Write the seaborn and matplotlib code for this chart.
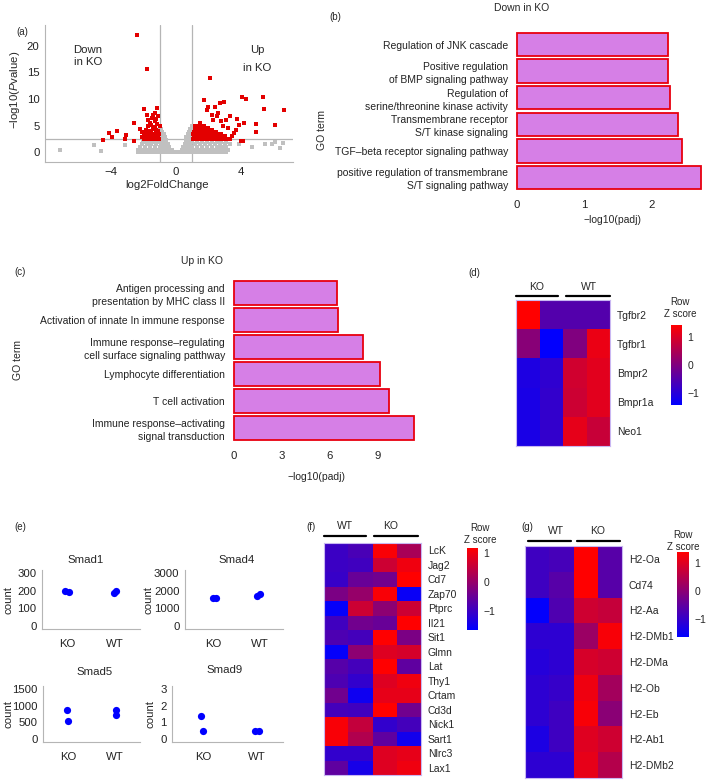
import numpy as np
import pandas as pd
import matplotlib
matplotlib.use('Agg')
import matplotlib.pyplot as plt
import seaborn as sns
from matplotlib.colors import LinearSegmentedColormap

sns.set_style('white')
plt.rcParams['font.family'] = ['Liberation Sans', 'DejaVu Sans']
plt.rcParams['mathtext.fontset'] = 'custom'
plt.rcParams['mathtext.rm'] = 'Liberation Sans'
plt.rcParams['mathtext.it'] = 'Liberation Sans:italic'

# ---- (a) volcano: points (log2FC, -log10 P)
grey_points = [
    (-2.3, 0.05), (-2.1, 0.05), (-1.9, 0.05), (-1.7, 0.05), (-1.5, 0.05), (-1.3, 0.05), (-1.1, 0.05),
    (-0.9, 0.05), (-0.7, 0.05), (-0.5, 0.05), (-0.3, 0.05), (-0.1, 0.05), (0.1, 0.0), (0.3, 0.05),
    (0.5, 0.05), (0.7, 0.05), (0.9, 0.05), (1.1, 0.05), (1.3, 0.05), (1.5, 0.05), (1.7, 0.05),
    (1.9, 0.05), (2.1, 0.05), (2.3, 0.05), (2.5, 0.05), (2.7, 0.05), (2.9, 0.05), (3.1, 0.05),
    (-2.2, 0.5), (-2.0, 0.5), (-1.8, 0.5), (-1.6, 0.5), (-1.4, 0.5), (-1.2, 0.5), (-1.0, 0.5),
    (-0.8, 0.5), (-0.6, 0.5), (-0.4, 0.5), (-0.25, 0.45), (0.35, 0.45), (0.5, 0.5), (0.65, 0.5),
    (0.8, 0.5), (1.0, 0.5), (1.2, 0.5), (1.4, 0.5), (1.6, 0.5), (1.8, 0.5), (2.0, 0.5), (2.2, 0.5),
    (2.4, 0.5), (2.6, 0.5), (2.8, 0.5), (3.0, 0.5), (3.2, 0.5),
    (-2.2, 1.0), (-1.9, 1.0), (-1.6, 1.0), (-1.3, 1.0), (-1.0, 1.0), (-0.8, 1.0), (-0.6, 1.0),
    (-0.4, 1.0), (0.45, 1.0), (0.6, 1.0), (0.8, 1.0), (1.0, 1.0), (1.3, 1.0), (1.6, 1.0),
    (1.9, 1.0), (2.2, 1.0), (2.5, 1.0), (2.8, 1.0), (3.1, 1.0),
    (-2.1, 1.5), (-1.8, 1.5), (-1.5, 1.5), (-1.2, 1.5), (-0.9, 1.5), (-0.7, 1.5), (-0.5, 1.5),
    (0.55, 1.5), (0.7, 1.5), (0.9, 1.5), (1.2, 1.5), (1.5, 1.5), (1.8, 1.5), (2.1, 1.5),
    (2.4, 1.5), (2.7, 1.5), (3.0, 1.5), (3.3, 1.5),
    (-2.0, 2.0), (-1.7, 2.0), (-1.4, 2.0), (-1.1, 2.0), (-0.8, 2.0), (-0.6, 2.0), (0.6, 2.0),
    (0.8, 2.0), (1.0, 2.0), (1.3, 2.0), (1.6, 2.0), (1.9, 2.0), (2.2, 2.0), (2.5, 2.0),
    (2.8, 2.0), (3.1, 2.0),
    (-1.9, 2.4), (-1.6, 2.4), (-1.3, 2.4), (-1.0, 2.4), (-0.8, 2.4), (-0.6, 2.4), (0.6, 2.4),
    (0.8, 2.4), (1.0, 2.4), (1.3, 2.4), (1.6, 2.4), (1.9, 2.4), (2.2, 2.4), (2.5, 2.4), (2.8, 2.4),
    (-0.95, 2.9), (-0.8, 2.9), (-0.65, 2.9), (0.65, 2.9), (0.8, 2.9), (0.95, 2.9),
    (-0.98, 3.4), (-0.85, 3.4), (-0.72, 3.4), (0.75, 3.4), (0.88, 3.4), (0.98, 3.4),
    (-0.98, 3.9), (-0.85, 3.9), (0.82, 3.9), (0.95, 3.9),
    (-0.97, 4.4), (-0.9, 4.4), (0.9, 4.4), (0.98, 4.4), (-0.97, 4.9), (0.97, 4.9),
    (-7.1, 0.4), (-5.0, 1.4), (-4.6, 0.2), (-3.1, 1.3), (-2.3, 0.4), (2.9, 1.1), (3.9, 1.6),
    (4.7, 1.1), (5.5, 1.6), (5.9, 1.6), (6.1, 1.9), (6.6, 1.75), (6.4, 0.8),
]
sig_points = [
    (-2.36, 22.1), (-1.8, 15.6), (-1.95, 8.2), (-1.17, 8.3), (-2.6, 5.6), (-3.6, 4.1), (-4.1, 3.6),
    (-3.9, 2.9), (-3.05, 3.3), (-3.15, 2.6), (-4.45, 2.25), (-2.6, 2.1), (-2.2, 4.4), (-2.1, 3.8),
    (-1.8, 7.1), (-1.7, 6.1), (-1.5, 5.2), (-1.4, 7.1), (-1.3, 7.4), (-1.1, 6.75), (-1.7, 4.9),
    (-1.9, 3.0), (-1.5, 3.9), (-1.3, 3.3), (-1.2, 4.25), (-1.0, 4.9),
    (-1.05, 2.6), (-1.2, 2.6), (-1.35, 2.6), (-1.5, 2.6), (-1.65, 2.6), (-1.8, 2.6), (-1.95, 2.6),
    (-1.1, 3.0), (-1.25, 2.9), (-1.4, 3.1), (-1.55, 2.9), (-1.7, 3.2), (-1.85, 3.0), (-2.05, 2.8),
    (-1.05, 3.5), (-1.2, 3.7), (-1.35, 3.5), (-1.6, 3.5), (-1.75, 3.7), (-1.95, 3.5), (-1.1, 4.0),
    (-1.4, 4.3), (-1.6, 4.1), (-1.85, 4.2), (-1.15, 5.4), (-1.3, 5.9), (-1.45, 6.5), (-1.2, 6.3),
    (-1.6, 5.5), (-1.25, 4.7),
    (2.07, 13.9), (1.74, 9.75), (2.69, 9.25), (2.93, 9.4), (4.06, 10.4), (4.33, 10.1), (5.35, 10.4),
    (5.44, 8.2), (6.63, 8.0), (6.1, 5.2), (4.9, 5.3), (4.9, 3.9), (4.16, 5.6), (3.75, 6.25),
    (3.9, 5.2), (3.7, 4.25), (3.3, 6.75), (3.1, 6.1), (2.6, 7.4), (2.4, 8.5), (2.0, 8.5), (2.2, 7.1),
    (2.5, 6.75), (2.9, 5.0), (3.45, 3.0), (4.0, 2.1), (4.15, 2.1), (1.5, 5.5), (1.6, 4.25),
    (1.2, 4.9), (1.9, 8.0), (2.3, 6.0), (2.8, 5.8), (3.2, 4.5), (3.6, 3.6),
    (1.05, 2.6), (1.2, 2.6), (1.35, 2.6), (1.5, 2.6), (1.65, 2.6), (1.8, 2.6), (1.95, 2.6),
    (2.1, 2.6), (2.25, 2.6), (2.4, 2.6), (2.55, 2.6), (2.7, 2.6), (2.85, 2.6), (3.0, 2.6),
    (3.15, 2.6), (3.3, 2.6),
    (1.1, 3.0), (1.25, 3.0), (1.4, 3.0), (1.55, 3.0), (1.7, 3.0), (1.85, 3.0), (2.0, 3.0),
    (2.15, 3.0), (2.3, 3.0), (2.45, 3.0), (2.6, 3.0), (2.8, 3.0), (3.0, 3.0),
    (1.05, 3.4), (1.2, 3.4), (1.35, 3.4), (1.5, 3.4), (1.65, 3.4), (1.8, 3.4), (1.95, 3.4),
    (2.1, 3.4), (2.3, 3.4), (2.5, 3.4), (2.75, 3.4),
    (1.1, 3.8), (1.25, 3.8), (1.4, 3.8), (1.55, 3.8), (1.7, 3.8), (1.85, 3.8), (2.0, 3.8),
    (2.2, 3.8), (2.45, 3.8),
    (1.15, 4.2), (1.3, 4.2), (1.45, 4.2), (1.6, 4.2), (1.8, 4.2), (2.0, 4.2), (2.25, 4.2),
    (1.2, 4.6), (1.35, 4.6), (1.5, 4.6), (1.7, 4.6), (1.95, 4.6), (1.3, 5.0), (1.5, 5.0), (1.75, 5.0),
]
lfc_cut = 1
p_cut = 2.5

# ---- (b), (c) GO enrichment
down_terms = ['Regulation of JNK cascade', 'Positive regulation\nof BMP signaling pathway',
              'Regulation of\nserine/threonine kinase activity', 'Transmembrane receptor\nS/T kinase signaling',
              'TGF\u2013beta receptor signaling pathway',
              'positive regulation of transmembrane\nS/T signaling pathway']
down_padj = [2.24, 2.24, 2.27, 2.38, 2.44, 2.72]
up_terms = ['Antigen processing and\npresentation by MHC class II', 'Activation of innate In immune response',
            'Immune response\u2013regulating\ncell surface signaling patthway', 'Lymphocyte differentiation',
            'T cell activation', 'Immune response\u2013activating\nsignal transduction']
up_padj = [6.47, 6.5, 8.05, 9.15, 9.7, 11.27]

# ---- (d) heatmap: KO, KO, WT, WT
d_genes = ['Tgfbr2', 'Tgfbr1', 'Bmpr2', 'Bmpr1a', 'Neo1']
d_z = [[1.45, -0.5, -0.5, -0.5],
       [0.1, -1.4, 0.0, 1.2],
       [-1.1, -0.9, 0.9, 1.1],
       [-1.15, -0.85, 0.85, 1.1],
       [-1.15, -0.85, 1.15, 0.8]]

# ---- (e) Smad counts
smad_group = ['KO', 'KO', 'WT', 'WT']
smad1 = [200, 190, 185, 200]
smad4 = [1570, 1600, 1830, 1700]
smad5 = [880, 530, 730, 870]
smad9 = [0.5, 1.4, 0.5, 0.5]

# ---- (f) heatmap: WT, WT, KO, KO
f_genes = ['LcK', 'Jag2', 'Cd7', 'Zap70', 'Ptprc', 'Il21', 'Sit1', 'Glmn', 'Lat', 'Thy1', 'Crtam',
           'Cd3d', 'Nick1', 'Sart1', 'Nlrc3', 'Lax1']
f_z = [[-1.0, -0.85, 1.1, 0.2],
       [-1.0, -0.95, 0.6, 1.0],
       [-1.05, -0.5, -0.4, 1.2],
       [-0.3, 0.0, 1.1, -1.55],
       [-1.6, 0.6, -0.1, 0.6],
       [-0.95, -0.4, -0.5, 1.2],
       [-0.8, -0.9, 1.2, -0.3],
       [-1.6, -0.1, 0.8, 0.7],
       [-0.7, -0.9, 1.2, -0.6],
       [-0.8, -1.1, 0.8, 1.0],
       [-0.4, -1.5, 0.9, 0.9],
       [-0.9, -0.95, 1.2, -0.4],
       [1.1, 0.5, -1.1, -0.9],
       [1.1, 0.3, -0.6, -1.45],
       [-1.1, -1.1, 0.8, 0.9],
       [-0.6, -1.4, 0.8, 1.0]]

# ---- (g) heatmap: WT, WT, KO, KO
g_genes = ['H2-Oa', 'Cd74', 'H2-Aa', 'H2-DMb1', 'H2-DMa', 'H2-Ob', 'H2-Eb', 'H2-Ab1', 'H2-DMb2']
g_z = [[-0.9, -0.8, 1.4, -0.6],
       [-0.9, -0.6, 1.4, -0.6],
       [-1.6, -0.7, 0.8, 0.7],
       [-1.1, -1.1, 0.2, 1.3],
       [-1.2, -1.1, 0.9, 0.8],
       [-1.1, -1.0, 1.2, 0.3],
       [-1.1, -0.9, 1.3, 0.0],
       [-1.3, -0.9, 1.0, 0.8],
       [-1.1, -1.1, 1.1, 0.5]]

W, H = 709, 780
fig = plt.figure(figsize=(W / 100, H / 100), dpi=100)
FS = 7.5
TS = 8.2
GREY = '#9a9a9a'
zcmap = LinearSegmentedColormap.from_list('zscore', ['#0000ff', '#ff0000'])


def box(l, t, r, b):
    return [l / W, 1 - b / H, (r - l) / W, (b - t) / H]


def ftext(x, y, s, **kw):
    kw.setdefault('fontsize', FS)
    kw.setdefault('ha', 'center')
    kw.setdefault('va', 'center')
    fig.text(x / W, 1 - y / H, s, **kw)


def hline(x0, x1, y):
    fig.add_artist(plt.Line2D([x0 / W, x1 / W], [1 - y / H, 1 - y / H], color='black', lw=1.6,
                              transform=fig.transFigure))


def gg_axes(ax):
    sns.despine(ax=ax)
    for s in ['left', 'bottom']:
        ax.spines[s].set_color('#b5b5b5')
        ax.spines[s].set_linewidth(0.8)
    ax.tick_params(length=2.5, width=0.8, color=GREY, labelsize=TS, pad=1.5, labelcolor='#222222')
    ax.set_xlabel('')
    ax.set_ylabel('')


# (a) volcano
ax = fig.add_axes(box(45, 25, 293, 162))
grey_df = pd.DataFrame(grey_points, columns=['lfc', 'p'])
sig_df = pd.DataFrame(sig_points, columns=['lfc', 'p'])
sns.scatterplot(data=grey_df, x='lfc', y='p', color='#c0c0c0', marker='s', s=6, linewidth=0, ax=ax)
sns.scatterplot(data=sig_df, x='lfc', y='p', color='#e30000', marker='s', s=6.5, linewidth=0, ax=ax)
ax.axvline(-lfc_cut, color='#b5b5b5', lw=0.9, zorder=0)
ax.axvline(lfc_cut, color='#b5b5b5', lw=0.9, zorder=0)
ax.axhline(p_cut, color='#b5b5b5', lw=0.9, zorder=0)
ax.set_xlim(-8.04, 7.2)
ax.set_ylim(-1.8, 23.9)
ax.set_xticks([-4, 0, 4])
ax.set_xticklabels(['\u22124', '0', '4'])
ax.set_yticks([0, 5, 10, 15, 20])
gg_axes(ax)
ax.tick_params(axis='x', pad=0.8)
ftext(88, 56, 'Down\nin KO', linespacing=1.3, fontsize=TS)
ftext(257, 59, 'Up\nin KO', linespacing=1.9, fontsize=TS)
ftext(167, 185, 'log2FoldChange', fontsize=TS)
ftext(15, 90, '\u2212log10($\\it{P}$value)', rotation=90, fontsize=TS)
ftext(22, 32, '(a)', fontsize=7)


def go_panel(rect, terms, vals, xmax, ticks):
    ax = fig.add_axes(box(*rect))
    sns.barplot(x=vals, y=terms, orient='h', color='#d67fe6', saturation=1, edgecolor='#e8000f',
                linewidth=1.3, width=0.88, ax=ax)
    ax.set_xlim(-0.01 * xmax, xmax)
    ax.set_ylim(5.55, -0.55)
    ax.set_xticks(ticks)
    sns.despine(ax=ax, left=True, bottom=True)
    ax.tick_params(length=2, width=1, color='#555555', labelsize=FS, pad=3, labelcolor='#222222')
    ax.tick_params(axis='x', pad=4, labelsize=TS)
    for t in ax.get_yticklabels():
        t.set_linespacing(1.35)
    ax.set_xlabel('')
    ax.set_ylabel('')
    return ax


# (b)
go_panel((515, 30, 704, 192), down_terms, down_padj, 2.77, [0, 1, 2])
ftext(522, 8, 'Down in KO')
ftext(335, 17, '(b)', fontsize=7)
ftext(612, 220, '\u2212log10(padj)')
ftext(322, 130, 'GO term', rotation=90)

# (c)
go_panel((232, 278, 415, 443), up_terms, up_padj, 11.33, [0, 3, 6, 9])
ftext(202, 261, 'Up in KO')
ftext(20, 272, '(c)', fontsize=7)
ftext(316, 477, '\u2212log10(padj)')
ftext(18, 360, 'GO term', rotation=90)


def heat_panel(rect, crect, z, genes, vmin, vmax, edge):
    ax = fig.add_axes(box(*rect))
    cax = fig.add_axes(box(*crect))
    df = pd.DataFrame(z, index=genes)
    sns.heatmap(df, ax=ax, cbar_ax=cax, cmap=zcmap, vmin=vmin, vmax=vmax,
                xticklabels=False, yticklabels=genes)
    ax.yaxis.tick_right()
    ax.tick_params(axis='y', length=0, labelsize=FS, rotation=0, pad=5)
    for s in ax.spines.values():
        s.set_visible(True)
        s.set_color(edge)
        s.set_linewidth(0.8)
    cbar = ax.collections[0].colorbar
    cbar.outline.set_visible(False)
    cbar.set_ticks([-1, 0, 1])
    cbar.set_ticklabels(['\u22121', '0', '1'])
    cax.tick_params(length=0, labelsize=FS, pad=4)
    return ax


# (d)
heat_panel((516, 300, 610, 446), (671, 325, 682, 405), d_z, d_genes, -1.43, 1.43, '#c9b7f2')
hline(516, 558, 296)
hline(566, 610, 296)
ftext(537, 287, 'KO')
ftext(589, 287, 'WT')
ftext(680, 308, 'Row\nZ score', fontsize=7, linespacing=1.2)
ftext(474, 273, '(d)', fontsize=7)

# (e)
ftext(20, 527, '(e)', fontsize=7)
np.random.seed(7)
smad_panels = [
    ('Smad1', smad1, (42, 570, 140, 629), (-15, 315), [0, 100, 200, 300], (-0.55, 1.55), 86, 560, 9),
    ('Smad4', smad4, (185, 570, 283, 629), (-150, 3150), [0, 1000, 2000, 3000], (-0.6, 1.5), 237, 560, 148),
    ('Smad5', smad5, (43, 686, 140, 742), (-75, 1575), [0, 500, 1000, 1500], (-0.55, 1.55), 95, 672, 9),
    ('Smad9', smad9, (172, 686, 283, 742), (-0.15, 3.15), [0, 1, 2, 3], (-0.6, 1.5), 225, 670, 150),
]
for name, vals, rect, ylim, yt, xlim, tx, ty, lx in smad_panels:
    ax = fig.add_axes(box(*rect))
    sns.stripplot(x=smad_group, y=vals, color='#0000ff', size=5.2, jitter=0.06, linewidth=0, ax=ax)
    ax.set_ylim(*ylim)
    ax.set_yticks(yt)
    ax.set_xlim(*xlim)
    gg_axes(ax)
    ax.tick_params(axis='x', pad=5)
    ftext(lx, (rect[1] + rect[3]) / 2, 'count', rotation=90, fontsize=TS)
    ftext(tx, ty, name, fontsize=TS)

# (f)
heat_panel((324, 543, 421, 775), (467, 548, 478, 630), f_z, f_genes, -1.66, 1.17, '#c9b7f2')
hline(324, 366, 536)
hline(374, 418, 536)
ftext(345, 526, 'WT')
ftext(391, 526, 'KO')
ftext(480, 534, 'Row\nZ score', fontsize=7, linespacing=1.2)
ftext(311, 527, '(f)', fontsize=7)

# (g)
heat_panel((525, 546, 622, 778), (677, 552, 689, 637), g_z, g_genes, -1.64, 1.39, '#c9b7f2')
hline(528, 571, 541)
hline(577, 620, 541)
ftext(556, 531, 'WT')
ftext(598, 531, 'KO')
ftext(683, 541, 'Row\nZ score', fontsize=7, linespacing=1.2)
ftext(527, 527, '(g)', fontsize=7)

fig.savefig('out.png', dpi=100)
